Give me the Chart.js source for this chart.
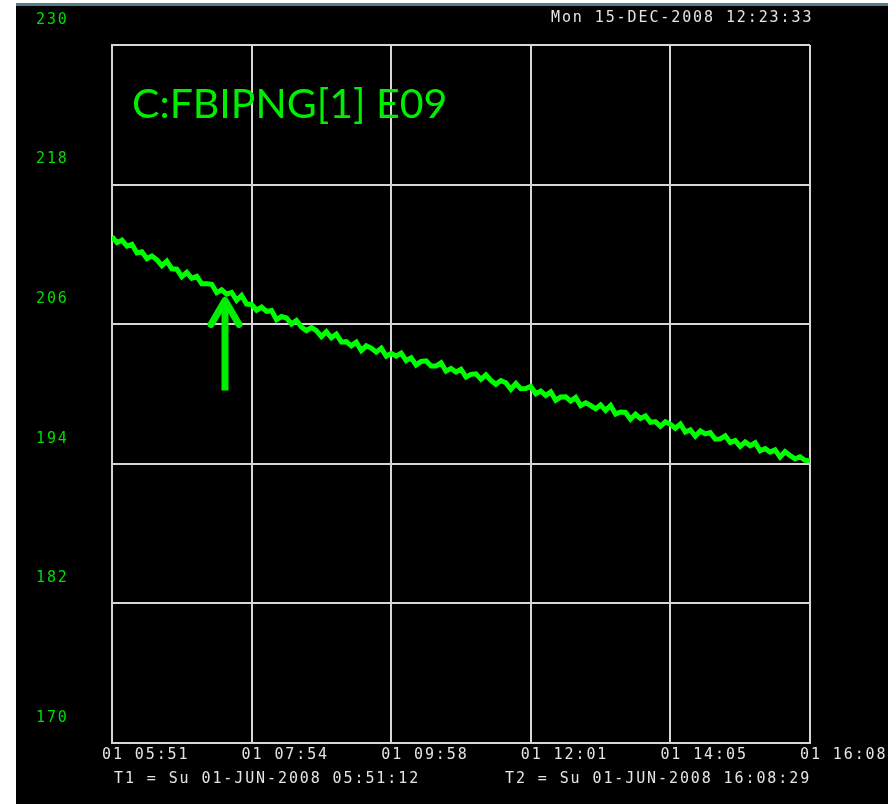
<!DOCTYPE html>
<html>
<head>
<meta charset="utf-8">
<script src="https://cdn.jsdelivr.net/npm/chart.js@4.4.1/dist/chart.umd.min.js"></script>
<style>
  html, body { margin: 0; padding: 0; background: #ffffff; }
  #frame {
    position: absolute; left: 16px; top: 3px; width: 872px; height: 801px;
    background: #000000; border-top: 3px solid #4f7f8c; box-sizing: border-box;
  }
  #wrap { position: absolute; left: 0; top: 0; width: 872px; height: 798px; }
</style>
</head>
<body>
<div id="frame"><div id="wrap"><canvas id="c"></canvas></div></div>
<script>
// Trace window (seconds of day)
const startTime = 5 * 3600 + 51 * 60 + 12;   // 05:51:12
const endTime = 16 * 3600 + 8 * 60 + 29;     // 16:08:29
const span = endTime - startTime;

const headerText = 'Mon 15-DEC-2008 12:23:33';
const traceName = 'C:FBIPNG[1] E09';
const t1Text = 'T1 = Su 01-JUN-2008 05:51:12';
const t2Text = 'T2 = Su 01-JUN-2008 16:08:29';

const xTickLabels = ['01 05:51', '01 07:54', '01 09:58', '01 12:01', '01 14:05', '01 16:08'];
const yTickValues = [170, 182, 194, 206, 218, 230];

// Marker arrow: time offset (s) and value range
const arrowTime = 5996;
const arrowTip = 208.3;
const arrowTail = 200.3;

// Recorded samples, evenly spaced between T1 and T2
const traceValues = [
  213.52, 213.01, 213.23, 212.72, 212.87, 212.13, 212.22, 211.63, 211.87, 211.53,
  211.04, 211.43, 210.76, 210.73, 210.08, 210.46, 209.95, 210.11, 209.48, 209.47,
  209.43, 208.71, 208.96, 208.58, 208.73, 208.05, 208.47, 207.73, 207.70, 207.20,
  207.47, 207.10, 207.18, 206.39, 206.66, 206.53, 206.01, 206.32, 205.76, 205.44,
  205.72, 205.44, 204.93, 205.35, 204.83, 205.15, 204.47, 204.50, 204.14, 204.45,
  203.73, 204.14, 203.95, 203.60, 203.93, 203.25, 203.50, 203.25, 203.51, 202.87,
  203.12, 202.50, 202.80, 202.85, 202.40, 202.40, 202.69, 201.96, 202.20, 201.89,
  202.12, 201.46, 201.69, 201.73, 201.26, 201.65, 201.16, 200.83, 201.15, 200.97,
  200.41, 200.90, 200.46, 200.47, 200.65, 200.03, 200.25, 199.87, 200.18, 199.47,
  199.74, 199.76, 199.39, 199.71, 199.00, 199.24, 199.01, 198.74, 199.06, 198.59,
  199.01, 198.27, 198.45, 198.41, 197.83, 198.26, 197.90, 198.12, 197.56, 197.63,
  197.22, 197.62, 197.40, 197.06, 197.42, 196.73, 196.92, 196.37, 196.82, 196.57,
  196.69, 196.12, 196.14, 196.41, 195.84, 196.00, 195.50, 195.88, 195.55, 195.81,
  195.11, 195.31, 195.01, 195.20, 194.58, 195.04, 194.72, 194.42, 194.60, 194.30,
  194.27
];

const step = span / (traceValues.length - 1);
const tracePoints = traceValues.map((v, i) => ({ x: i * step, y: v }));

const monoFont = { family: "'DejaVu Sans Mono', monospace", size: 15 };
const gridColor = '#d6d6d6';
const textWhite = '#e4e4e4';
const traceGreen = '#00ff00';

// Wide letter spacing for the terminal-style labels
const spacingPlugin = {
  id: 'spacing',
  beforeDraw(chart) { chart.ctx.letterSpacing = '1.9px'; },
  afterDraw(chart) { chart.ctx.letterSpacing = '0px'; }
};

// Arrow marker and captions
const overlayPlugin = {
  id: 'overlay',
  afterDatasetsDraw(chart) {
    const { ctx, scales: { x, y } } = chart;
    const px = x.getPixelForValue(arrowTime);
    const tipY = y.getPixelForValue(arrowTip);
    const tailY = y.getPixelForValue(arrowTail);
    ctx.save();
    ctx.strokeStyle = '#00ee00';
    ctx.lineWidth = 7;
    ctx.lineCap = 'butt';
    ctx.beginPath();
    ctx.moveTo(px, tailY);
    ctx.lineTo(px, tipY + 4);
    ctx.stroke();
    ctx.lineCap = 'round';
    ctx.lineJoin = 'round';
    ctx.beginPath();
    ctx.moveTo(px - 14, tipY + 27);
    ctx.lineTo(px, tipY + 3);
    ctx.lineTo(px + 14, tipY + 27);
    ctx.stroke();
    ctx.restore();
  },
  afterDraw(chart) {
    const ctx = chart.ctx;
    ctx.save();
    ctx.letterSpacing = '0px';
    ctx.fillStyle = '#00ee00';
    ctx.font = "41px Lato, 'Open Sans', sans-serif";
    ctx.textBaseline = 'alphabetic';
    ctx.textAlign = 'left';
    ctx.fillText(traceName, 116, 112);

    ctx.letterSpacing = '1.9px';
    ctx.font = "15px 'DejaVu Sans Mono', monospace";
    ctx.fillStyle = textWhite;
    ctx.textBaseline = 'middle';
    ctx.fillText(headerText, 535, 12);
    ctx.fillText(t1Text, 98, 773);
    ctx.fillText(t2Text, 489, 773);
    ctx.restore();
  }
};

new Chart(document.getElementById('c'), {
  type: 'line',
  data: {
    datasets: [{
      data: tracePoints,
      borderColor: traceGreen,
      borderWidth: 5,
      pointRadius: 0,
      tension: 0,
      fill: false
    }]
  },
  options: {
    responsive: true,
    maintainAspectRatio: false,
    animation: false,
    events: [],
    layout: { padding: { left: 20, top: 39, right: 78, bottom: 0 } },
    plugins: { legend: { display: false }, tooltip: { enabled: false }, title: { display: false } },
    scales: {
      x: {
        type: 'linear',
        min: 0,
        max: span,
        afterBuildTicks(scale) {
          scale.ticks = xTickLabels.map((_, k) => ({ value: k * span / (xTickLabels.length - 1) }));
        },
        afterFit(scale) { scale.height = 61; },
        ticks: {
          autoSkip: false,
          maxRotation: 0,
          minRotation: 0,
          align: 'start',
          labelOffset: -10,
          padding: 3,
          color: textWhite,
          font: monoFont,
          callback: (v, i) => xTickLabels[i]
        },
        grid: { color: gridColor, lineWidth: 2, drawTicks: false },
        border: { display: true, color: gridColor, width: 2 }
      },
      y: {
        min: 170,
        max: 230,
        afterBuildTicks(scale) {
          scale.ticks = yTickValues.map(v => ({ value: v }));
        },
        afterFit(scale) { scale.width = 76; },
        ticks: {
          crossAlign: 'far',
          labelOffset: -25,
          padding: 0,
          color: '#00dd00',
          font: monoFont,
          callback: v => String(v)
        },
        grid: { color: gridColor, lineWidth: 2, drawTicks: false },
        border: { display: true, color: gridColor, width: 2 }
      }
    }
  },
  plugins: [spacingPlugin, overlayPlugin]
});
</script>
</body>
</html>
